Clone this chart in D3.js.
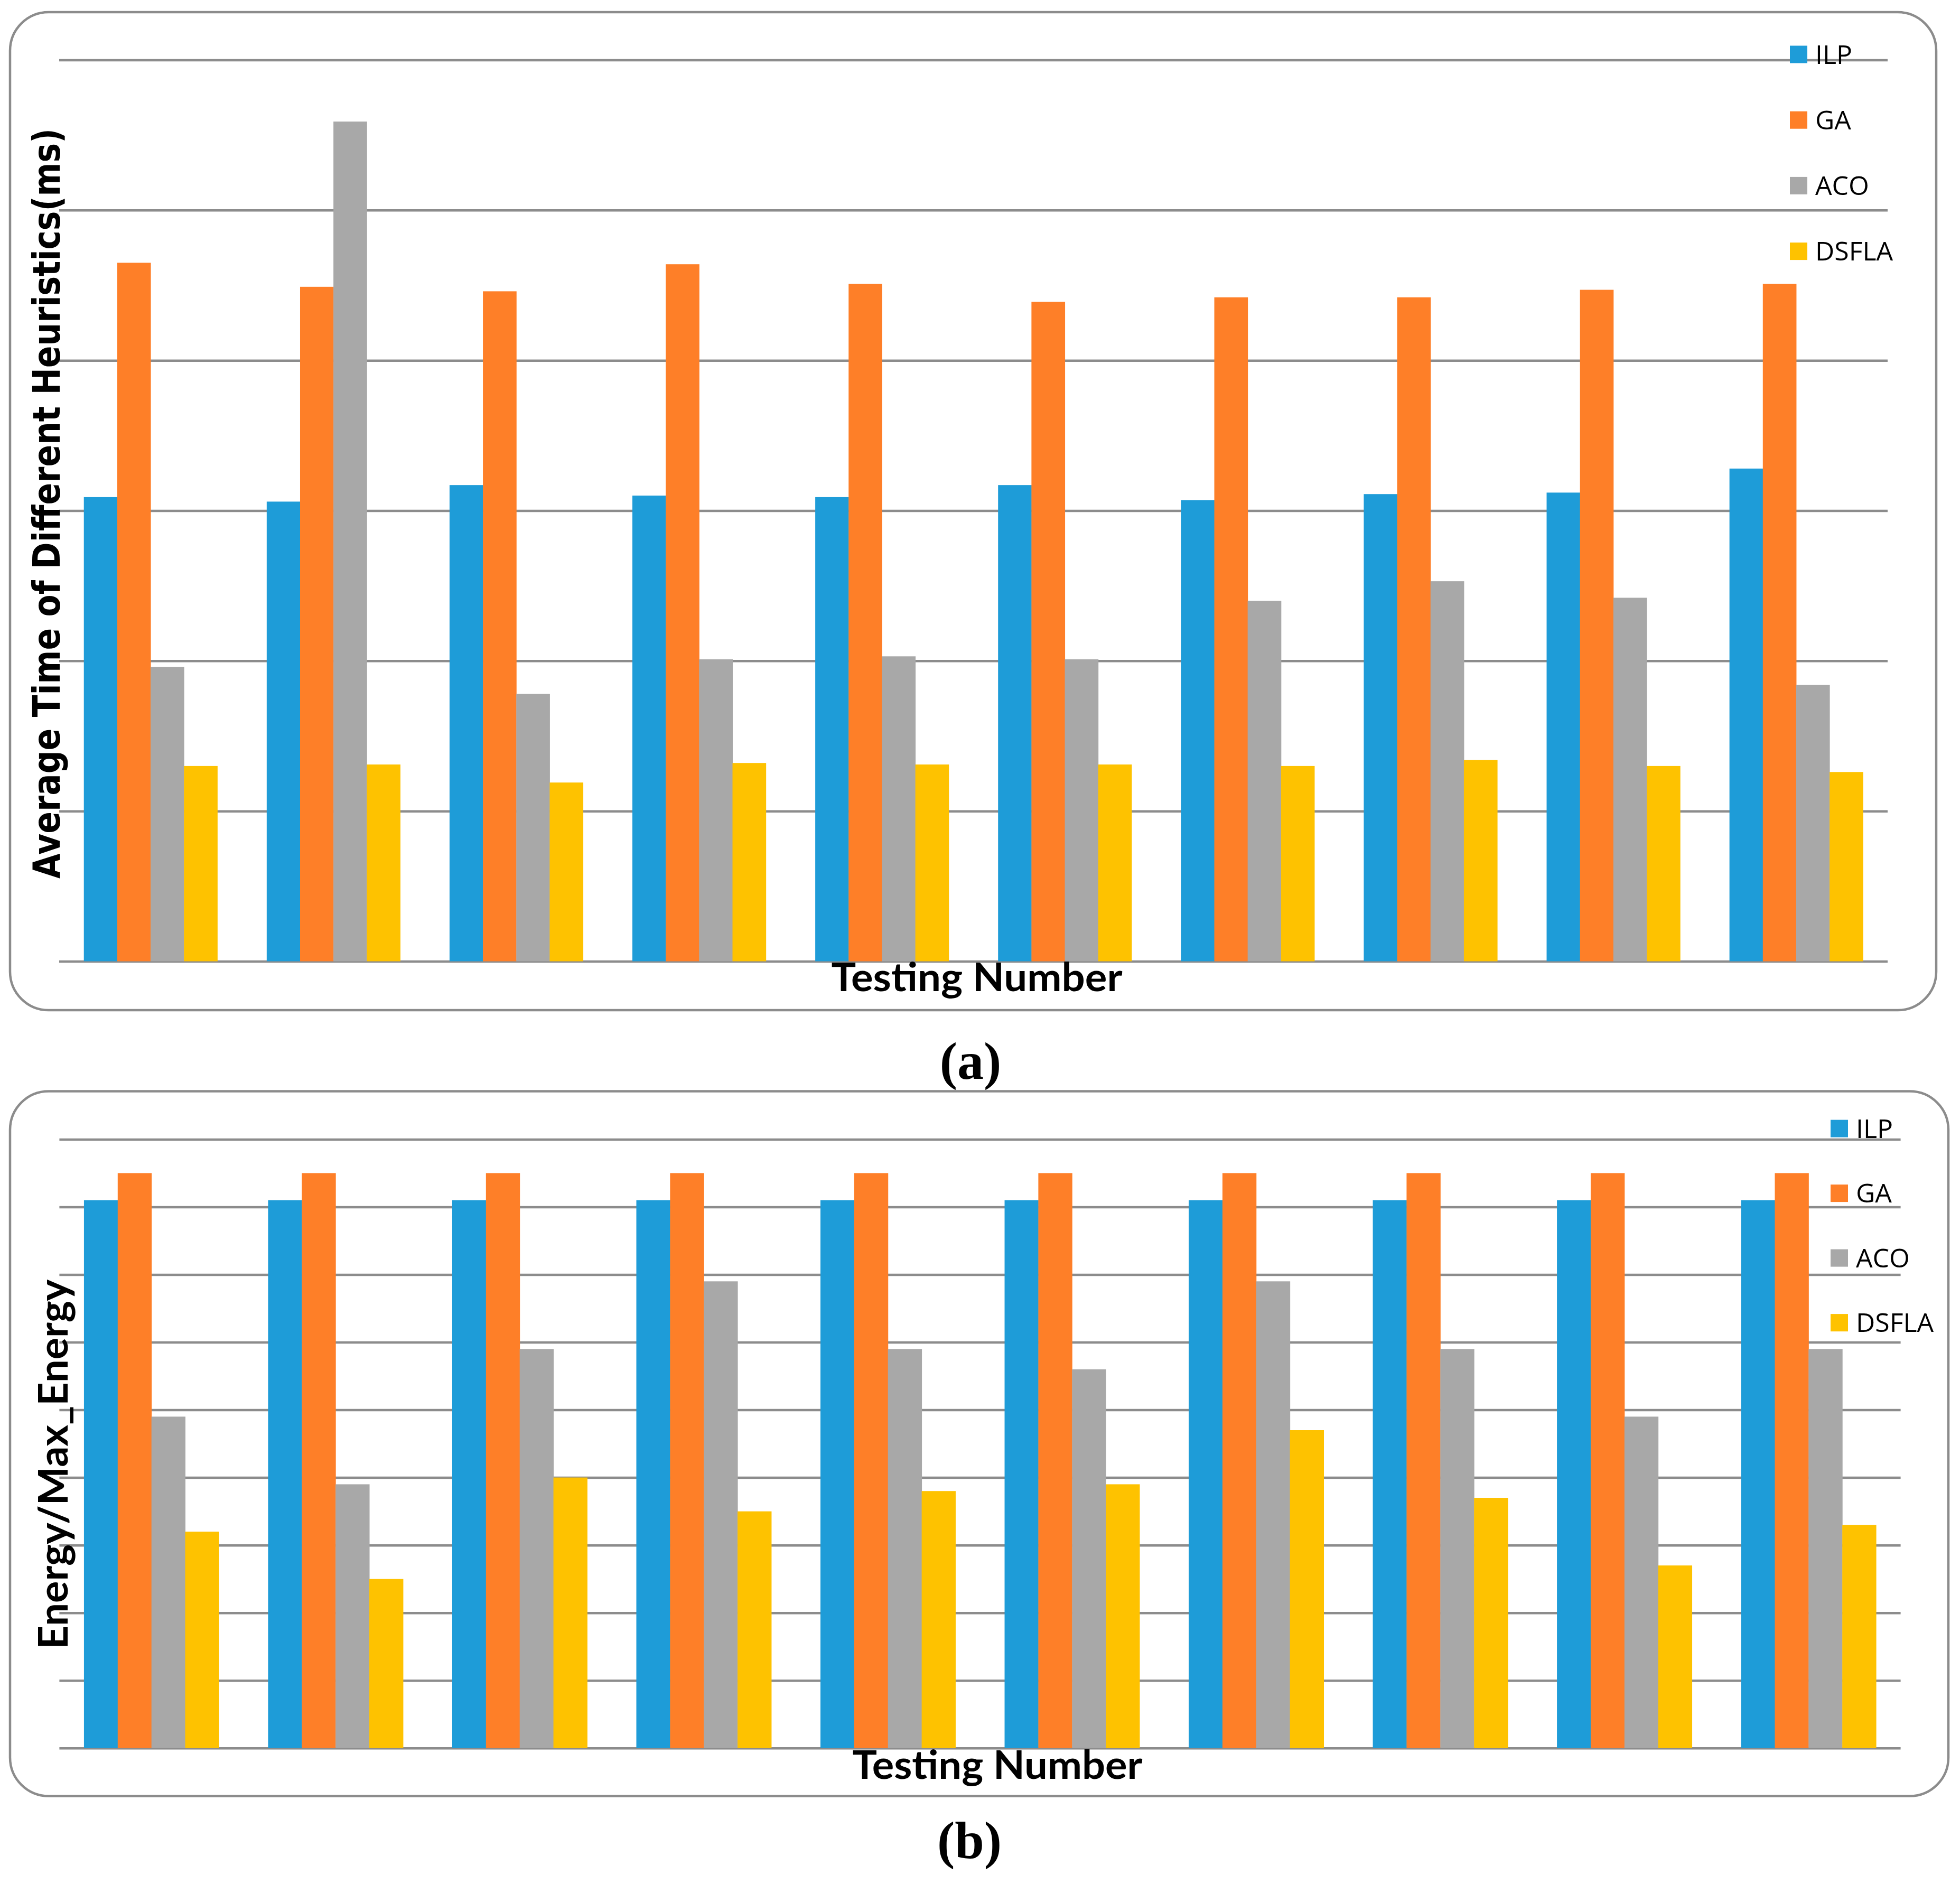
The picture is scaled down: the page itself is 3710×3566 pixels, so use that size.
<!DOCTYPE html>
<html>
<head>
<meta charset="utf-8">
<script src="https://cdn.jsdelivr.net/npm/d3@7"></script>
<style>
  html, body { margin: 0; padding: 0; background: #fff; }
</style>
</head>
<body>
<div id="container"></div>
<script>
// Two grouped bar panels: (a) average time, (b) normalised energy

const tests = ["1", "2", "3", "4", "5", "6", "7", "8", "9", "10"]
const series = ["ILP", "GA", "ACO", "DSFLA"]
const colors = ["#1e9cd8", "#fe7f28", "#a8a8a8", "#fec200"]

// panel (a), values in grid steps (the chart shows no tick labels)
const timeILP = [3.09, 3.06, 3.17, 3.10, 3.09, 3.17, 3.07, 3.11, 3.12, 3.28]
const timeGA = [4.65, 4.49, 4.46, 4.64, 4.51, 4.39, 4.42, 4.42, 4.47, 4.51]
const timeACO = [1.96, 5.59, 1.78, 2.01, 2.03, 2.01, 2.40, 2.53, 2.42, 1.84]
const timeDSFLA = [1.30, 1.31, 1.19, 1.32, 1.31, 1.31, 1.30, 1.34, 1.30, 1.26]
const timeTicks = [0, 1, 2, 3, 4, 5, 6]

// panel (b)
const energyILP = [0.81, 0.81, 0.81, 0.81, 0.81, 0.81, 0.81, 0.81, 0.81, 0.81]
const energyGA = [0.85, 0.85, 0.85, 0.85, 0.85, 0.85, 0.85, 0.85, 0.85, 0.85]
const energyACO = [0.49, 0.39, 0.59, 0.69, 0.59, 0.56, 0.69, 0.59, 0.49, 0.59]
const energyDSFLA = [0.32, 0.25, 0.40, 0.35, 0.38, 0.39, 0.47, 0.37, 0.27, 0.33]
const energyTicks = [0, 0.1, 0.2, 0.3, 0.4, 0.5, 0.6, 0.7, 0.8, 0.9]

const width = 3710,
    height = 3566
const gridColor = "#8c8c8c"

const svg = d3.select("#container").append("svg")
    .attr("width", width)
    .attr("height", height)
    .style("background", "white")
    .style("display", "block")

function drawPanel(p) {
    const g = svg.append("g").attr("class", "panel")

    // rounded frame
    g.append("rect")
        .attr("x", p.frame.x).attr("y", p.frame.y)
        .attr("width", p.frame.w).attr("height", p.frame.h)
        .attr("rx", 73).attr("ry", 73)
        .attr("fill", "white")
        .attr("stroke", gridColor)
        .attr("stroke-width", 4.5)

    const x0 = d3.scaleBand()
        .domain(tests)
        .range([p.left, p.right])
        .paddingInner(p.pad)
        .paddingOuter(p.pad / 2)

    const x1 = d3.scaleBand()
        .domain(series)
        .range([0, x0.bandwidth()])

    const y = d3.scaleLinear()
        .domain([0, p.ticks[p.ticks.length - 1]])
        .range([p.bottom, p.top])

    // gridlines
    const grid = g.append("g")
        .attr("transform", `translate(${p.left},0)`)
        .call(d3.axisLeft(y)
            .tickValues(p.ticks)
            .tickSize(-(p.right - p.left))
            .tickFormat(""))
    grid.select(".domain").remove()
    grid.selectAll(".tick line")
        .attr("stroke", gridColor)
        .attr("stroke-width", 4.5)

    const rows = tests.map((t, i) => ({
        test: t,
        vals: series.map((s, j) => ({ key: s, value: p.values[j][i], color: colors[j] }))
    }))

    g.append("g").attr("class", "bars")
        .selectAll("g")
        .data(rows)
        .enter()
        .append("g")
        .attr("transform", (d) => `translate(${x0(d.test)},0)`)
        .selectAll("rect")
        .data((d) => d.vals)
        .enter()
        .append("rect")
        .attr("x", (d) => x1(d.key))
        .attr("width", x1.bandwidth() + 0.5)
        .attr("y", (d) => y(d.value))
        .attr("height", (d) => y(0) - y(d.value))
        .attr("fill", (d) => d.color)

    // legend
    const legend = g.append("g").attr("class", "legend")
        .selectAll("g")
        .data(series)
        .enter()
        .append("g")
        .attr("transform", (d, i) => `translate(${p.legend.x},${p.legend.y + i * p.legend.step})`)
    legend.append("rect")
        .attr("width", 33).attr("height", 33)
        .attr("fill", (d, i) => colors[i])
    legend.append("text")
        .attr("x", 48).attr("y", 34)
        .text((d) => d)
        .style("font-family", "'Open Sans', sans-serif")
        .style("font-size", "50px")
        .attr("fill", "black")

    // axis titles
    g.append("text")
        .attr("x", p.xTitle.x).attr("y", p.xTitle.y)
        .attr("text-anchor", "middle")
        .attr("textLength", p.xTitle.len)
        .attr("lengthAdjust", "spacingAndGlyphs")
        .style("font-family", "Lato, sans-serif")
        .style("font-weight", "bold")
        .style("font-size", "74px")
        .text("Testing Number")

    g.append("text")
        .attr("transform", `translate(${p.yTitle.x},${p.yTitle.y}) rotate(-90)`)
        .attr("text-anchor", "middle")
        .attr("textLength", p.yTitle.len)
        .attr("lengthAdjust", "spacingAndGlyphs")
        .style("font-family", p.yTitle.font)
        .style("font-weight", "bold")
        .style("font-size", p.yTitle.size + "px")
        .text(p.yTitle.text)

    // caption under the frame
    svg.append("text")
        .attr("x", p.caption.x).attr("y", p.caption.y)
        .attr("text-anchor", "middle")
        .style("font-family", "'Liberation Serif', 'Times New Roman', serif")
        .style("font-weight", "bold")
        .style("font-size", "100px")
        .text(p.caption.text)
}

drawPanel({
    frame: { x: 19, y: 23, w: 3646, h: 1889 },
    left: 112, right: 3573, top: 113.5, bottom: 1819.5,
    pad: 0.27,
    ticks: timeTicks,
    values: [timeILP, timeGA, timeACO, timeDSFLA],
    legend: { x: 3388, y: 86.5, step: 124.2 },
    xTitle: { x: 1849, y: 1875.5, len: 551 },
    yTitle: { x: 112.7, y: 953, len: 1420, size: 72, font: "'DejaVu Sans', sans-serif",
        text: "Average Time of Different Heuristics(ms)" },
    caption: { x: 1837, y: 2041.5, text: "(a)" }
})

drawPanel({
    frame: { x: 19, y: 2065.5, w: 3669, h: 1334 },
    left: 112.4, right: 3597.6, top: 2156.4, bottom: 3308.8,
    pad: 0.267,
    ticks: energyTicks,
    values: [energyILP, energyGA, energyACO, energyDSFLA],
    legend: { x: 3465, y: 2119.6, step: 122.5 },
    xTitle: { x: 1888, y: 3366.8, len: 549 },
    yTitle: { x: 127.8, y: 2771.5, len: 700, size: 76, font: "Lato, sans-serif",
        text: "Energy/Max_Energy" },
    caption: { x: 1835, y: 3517, text: "(b)" }
})
</script>
</body>
</html>
